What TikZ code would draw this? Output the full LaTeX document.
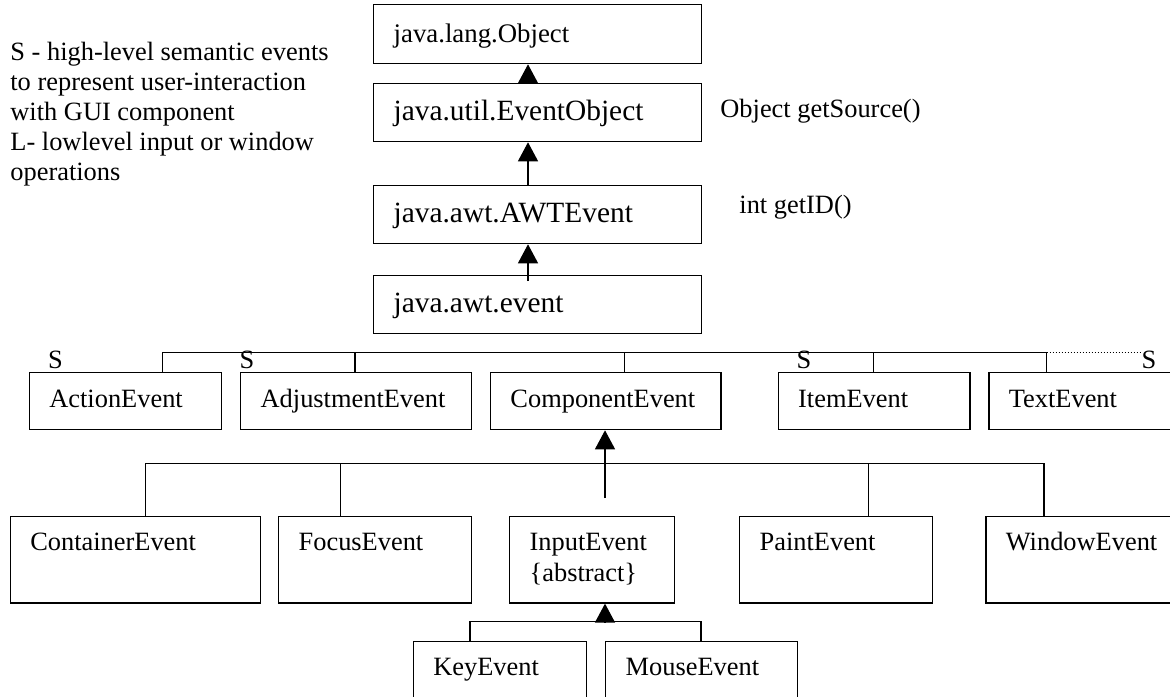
\documentclass[tikz,border=0pt]{standalone}
\usepackage{fontspec}
\setmainfont{Liberation Serif}
\usetikzlibrary{arrows.meta}
\newcommand\dfont{\fontsize{13.2pt}{15.5pt}\selectfont}
\newcommand\tfont{\fontsize{14.7pt}{20pt}\selectfont}
\newcommand\ofont{\fontsize{13.4pt}{20pt}\selectfont}
\begin{document}
\begin{tikzpicture}[x=0.5pt,y=-0.5pt,
  box/.style={draw, line width=0.65pt, anchor=north west, inner xsep=10pt, inner ysep=0pt, align=left, font=\dfont},
  topbox/.style={box, font=\tfont, text width=144pt, minimum height=29pt},
  lbl/.style={inner sep=0pt, font=\dfont},
  conn/.style={line width=0.65pt},
  dots/.style={line width=0.5pt, dash pattern=on 0.5pt off 1pt},
  inh/.style={line width=0.65pt, -{Triangle[width=10pt,length=9.5pt]}}]
\useasboundingbox (0,0) rectangle (1170,696);
\clip (0,0) rectangle (1170,696);

% top chain
\node[topbox, font=\ofont, minimum height=29.5pt] (obj) at (373,4) {\strut java.lang.Object};
\node[topbox] (evobj) at (373,83) {\strut java.util.EventObject};
\node[topbox] (awt) at (373,185) {\strut java.awt.AWTEvent};
\node[topbox] (event) at (373,275) {\strut java.awt.event};

% first level
\node[box, text width=76.15pt, minimum height=28.5pt] (action) at (28.7,372) {\strut ActionEvent};
\node[box, text width=95.35pt, minimum height=28.5pt] (adjust) at (240,372) {\strut AdjustmentEvent};
\node[box, text width=95.25pt, minimum height=28.5pt] (component) at (489.8,372) {\strut ComponentEvent};
\node[box, text width=75.95pt, minimum height=28.5pt] (item) at (777.5,372) {\strut ItemEvent};
\node[box, text width=80pt, minimum height=28.5pt] (textev) at (988.2,372) {\strut TextEvent};

% second level
\node[box, text width=104.95pt, minimum height=43.15pt] (container) at (9.6,516) {\strut ContainerEvent\\\strut};
\node[box, text width=76.35pt, minimum height=43.15pt] (focus) at (278,516) {\strut FocusEvent\\\strut};
\node[box, text width=62.5pt, minimum height=43.15pt] (input) at (509,516) {\strut InputEvent\\\strut\{abstract\}};
\node[box, text width=76.4pt, minimum height=43.15pt] (paint) at (739,516) {\strut PaintEvent\\\strut};
\node[box, text width=80pt, minimum height=43.15pt] (window) at (985.2,516) {\strut WindowEvent\\\strut};

% third level
\node[box, text width=66.65pt, minimum height=43.25pt] (key) at (412.7,640.5) {\strut KeyEvent\\\strut};
\node[box, text width=76pt, minimum height=43.25pt] (mouse) at (605,640.5) {\strut MouseEvent\\\strut};

% notes
\node[lbl, anchor=base west] (n1) at (10,60) {S - high-level semantic events};
\node[lbl, anchor=base west] (n2) at (10,90) {to represent user-interaction};
\node[lbl, anchor=base west] (n3) at (10,120) {with GUI component};
\node[lbl, anchor=base west] (n4) at (10,150) {L- lowlevel input or window};
\node[lbl, anchor=base west] (n5) at (10,180) {operations};
\node[lbl, anchor=base west] (gs) at (720,117) {Object getSource()};
\node[lbl, anchor=base west] (gid) at (739,213) {int getID()};
\node[lbl, anchor=base] (s1) at (55.5,368) {S};
\node[lbl, anchor=base] (s2) at (247,368) {S};
\node[lbl, anchor=base] (s3) at (804,368) {S};
\node[lbl, anchor=base] (s4) at (1149,368) {S};

% top inheritance arrows
\coordinate (ax) at (528,0);
\coordinate (evin) at (528,281);
\draw[inh] (ax |- evobj.north) -- (ax |- obj.south);
\draw[inh] (ax |- awt.north) -- (ax |- evobj.south);
\draw[inh] (evin) -- (ax |- awt.south);

% first level branches
\coordinate (h1) at (162.6,352.7);
\coordinate (h2) at (355,352.7);
\coordinate (h3) at (624.4,352.7);
\coordinate (h4) at (873.5,352.7);
\coordinate (h5) at (1046.5,352.7);
\coordinate (hend) at (1140.6,352.7);
\draw[conn] (h1 |- action.north) -- (h1) -- (h5) -- (h5 |- textev.north);
\draw[conn] (h2) -- (h2 |- adjust.north);
\draw[conn] (h3) -- (h3 |- component.north);
\draw[conn] (h4) -- (h4 |- item.north);
\draw[dots] (h5) -- (hend);

% second level branches
\coordinate (cfree) at (605,498);
\draw[inh] (cfree) -- (cfree |- component.south);
\coordinate (g1) at (145.4,463.3);
\coordinate (g2) at (340.6,463.3);
\coordinate (g3) at (868.6,463.3);
\coordinate (g4) at (1043.9,463.3);
\draw[conn] (g1 |- container.north) -- (g1) -- (g4) -- (g4 |- window.north);
\draw[conn] (g2) -- (g2 |- focus.north);
\draw[conn] (g3) -- (g3 |- paint.north);

% third level branches
\coordinate (ifree) at (605,621.7);
\coordinate (k1) at (470,621.7);
\coordinate (k2) at (701,621.7);
\draw[inh] (ifree) -- (ifree |- input.south);
\draw[conn] (k1 |- key.north) -- (k1) -- (k2) -- (k2 |- mouse.north);
\end{tikzpicture}
\end{document}
